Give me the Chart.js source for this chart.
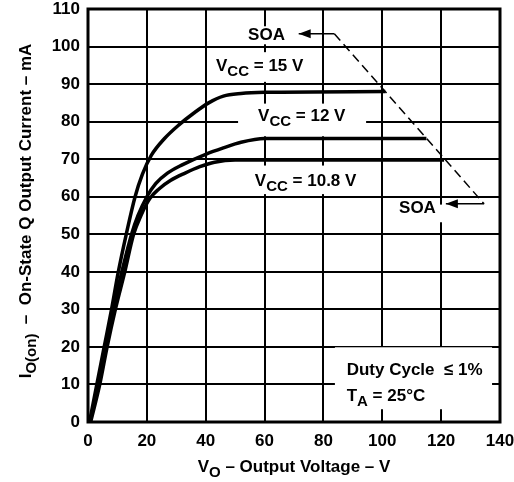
<!DOCTYPE html>
<html><head><meta charset="utf-8">
<script src="https://cdn.jsdelivr.net/npm/chart.js@4/dist/chart.umd.min.js"></script>
<style>html,body{margin:0;padding:0;background:#fff}canvas{display:block}</style>
</head><body>
<canvas id="c" width="514" height="482"></canvas>
<script>
const FONT = '"Liberation Sans", Arial, Helvetica, sans-serif';

// axis ranges / ticks
const xTickValues = [0, 20, 40, 60, 80, 100, 120, 140];
const yTickValues = [0, 10, 20, 30, 40, 50, 60, 70, 80, 90, 100, 110];

// VCC = 15 V curve (V, mA)
const vcc15V = [0.5, 3, 5.5, 8, 10.3, 13, 16, 18.5, 21.5, 26, 31, 36, 41, 46, 52, 60, 101];
const vcc15I = [0, 10, 20, 30, 40, 50, 60, 66, 71, 75.5, 79.2, 82.3, 85, 86.8, 87.5, 87.8, 88];
// VCC = 12 V curve
const vcc12V = [0.7, 3.5, 6, 8.5, 11.5, 14.8, 17, 20, 23, 27, 32, 40, 46, 52, 60, 115];
const vcc12I = [0, 10, 20, 30, 40, 50, 55, 60, 63.5, 66.3, 68.5, 71.3, 73, 74.5, 75.5, 75.5];
// VCC = 10.8 V curve
const vcc108V = [0.9, 4, 6.5, 9.3, 12.5, 15.5, 18, 21, 24, 28, 33, 38, 43, 50, 121];
const vcc108I = [0, 10, 20, 30, 40, 50, 55, 59.5, 62, 64.3, 66.3, 68, 69.2, 69.8, 69.8];
// SOA boundary (arrow top, dashed diagonal, arrow bottom)
const soaTopV = [71.6, 83.7], soaTopI = [103.4, 103.4];
const soaDiagV = [83.7, 134.6], soaDiagI = [103.4, 58.1];
const soaBotV = [134.6, 121.6], soaBotI = [58.1, 58.1];

const pts = (xs, ys) => xs.map((v, i) => ({x: v, y: ys[i]}));

const curve = (label, xs, ys) => ({
  label, data: pts(xs, ys), showLine: true, borderColor: '#000', borderWidth: 3.5,
  pointRadius: 0, cubicInterpolationMode: 'monotone', fill: false
});

// annotation layout (in data units)
const boxes = [
  [53.0, 68.6, 105.4, 100.6],
  [42.1, 76.1, 98.5, 90.6],
  [51.0, 94.5, 84.8, 76.1],
  [53.3, 96.5, 68.3, 60.7],
  [104.3, 120.8, 57.9, 53.2],
  [83.9, 137.3, 19.9, 3.4]
];
const labels = [
  {v: 54.4, i: 101.7, parts: [['SOA']]},
  {v: 43.5, i: 93.5, parts: [['V'], ['CC', 1], [' = 15 V']]},
  {v: 57.8, i: 80.1, parts: [['V'], ['CC', 1], [' = 12 V']]},
  {v: 56.7, i: 62.75, parts: [['V'], ['CC', 1], [' = 10.8 V']]},
  {v: 105.7, i: 55.7, parts: [['SOA']]},
  {v: 87.9, i: 12.5, parts: [['Duty Cycle  \u2264 1%']]},
  {v: 87.9, i: 5.5, parts: [['T'], ['A', 1], [' = 25\u00B0C']]}
];

const MAIN = 'bold 17px ' + FONT, SUB = 'bold 15px ' + FONT;
function richWidth(ctx, parts) {
  let w = 0;
  for (const p of parts) { ctx.font = p[1] ? SUB : MAIN; w += ctx.measureText(p[0]).width; }
  return w;
}
function drawRich(ctx, parts, x, y) {
  for (const p of parts) {
    ctx.font = p[1] ? SUB : MAIN;
    ctx.fillText(p[0], x, y + (p[1] ? 5 : 0));
    x += ctx.measureText(p[0]).width;
  }
}

const decor = {
  id: 'decor',
  beforeDatasetsDraw(chart) {
    const {ctx, scales: {x, y}} = chart;
    ctx.save();
    ctx.fillStyle = '#fff';
    for (const b of boxes) {
      const x1 = x.getPixelForValue(b[0]), x2 = x.getPixelForValue(b[1]);
      const y1 = y.getPixelForValue(b[2]), y2 = y.getPixelForValue(b[3]);
      ctx.fillRect(x1, y1, x2 - x1, y2 - y1);
    }
    ctx.restore();
  },
  afterDatasetsDraw(chart) {
    const {ctx, chartArea: a, scales: {x, y}} = chart;
    ctx.save();
    // frame
    ctx.strokeStyle = '#000';
    ctx.lineWidth = 3;
    ctx.strokeRect(a.left, a.top, a.right - a.left, a.bottom - a.top);
    // arrowheads
    ctx.fillStyle = '#000';
    const heads = [chart.getDatasetMeta(3).data[0], chart.getDatasetMeta(5).data[1]];
    for (const h of heads) {
      ctx.beginPath();
      ctx.moveTo(h.x, h.y);
      ctx.lineTo(h.x + 12, h.y - 4.5);
      ctx.lineTo(h.x + 12, h.y + 4.5);
      ctx.closePath();
      ctx.fill();
    }
    // labels
    ctx.textBaseline = 'alphabetic';
    ctx.textAlign = 'left';
    for (const l of labels) drawRich(ctx, l.parts, x.getPixelForValue(l.v), y.getPixelForValue(l.i));
    ctx.restore();
  },
  afterDraw(chart) {
    const {ctx} = chart;
    ctx.save();
    ctx.fillStyle = '#000';
    ctx.textBaseline = 'alphabetic';
    ctx.textAlign = 'left';
    // x title
    const xt = [['V'], ['O', 1], [' \u2013 Output Voltage \u2013 V']];
    const xw = richWidth(ctx, xt);
    drawRich(ctx, xt, 294 - xw / 2, 472);
    // y title (rotated)
    const yt = [['I'], ['O(on)', 1], ['  \u2013  On-State Q Output Current \u2013 mA']];
    const yw = richWidth(ctx, yt);
    ctx.translate(31, 211);
    ctx.rotate(-Math.PI / 2);
    drawRich(ctx, yt, -yw / 2, 0);
    ctx.restore();
  }
};

new Chart(document.getElementById('c'), {
  type: 'scatter',
  data: {
    datasets: [
      curve('VCC = 15 V', vcc15V, vcc15I),
      curve('VCC = 12 V', vcc12V, vcc12I),
      curve('VCC = 10.8 V', vcc108V, vcc108I),
      {label: 'SOA top', data: pts(soaTopV, soaTopI), showLine: true, borderColor: '#000', borderWidth: 1.5, pointRadius: 0},
      {label: 'SOA', data: pts(soaDiagV, soaDiagI), showLine: true, borderColor: '#000', borderWidth: 1.5, borderDash: [9, 5], pointRadius: 0},
      {label: 'SOA bottom', data: pts(soaBotV, soaBotI), showLine: true, borderColor: '#000', borderWidth: 1.5, pointRadius: 0}
    ]
  },
  options: {
    responsive: false,
    devicePixelRatio: 1,
    animation: false,
    layout: {padding: {top: 9, right: 14, left: 0, bottom: 0}},
    plugins: {legend: {display: false}, tooltip: {enabled: false}},
    scales: {
      x: {
        type: 'linear', min: 0, max: 140,
        afterBuildTicks: s => { s.ticks = xTickValues.map(v => ({value: v})); },
        afterFit: s => { s.height = 60; s.paddingLeft = 0; s.paddingRight = 0; },
        grid: {color: '#000', lineWidth: 2, drawTicks: false},
        border: {display: false},
        ticks: {color: '#000', padding: 9, font: {family: FONT, size: 17, weight: 'bold'}}
      },
      y: {
        type: 'linear', min: 0, max: 110,
        afterBuildTicks: s => { s.ticks = yTickValues.map(v => ({value: v})); },
        afterFit: s => { s.width = 88; s.paddingTop = 0; s.paddingBottom = 0; },
        grid: {color: '#000', lineWidth: 2, drawTicks: false},
        border: {display: false},
        ticks: {color: '#000', padding: 8, font: {family: FONT, size: 17, weight: 'bold'}}
      }
    }
  },
  plugins: [decor]
});
</script>
</body></html>
